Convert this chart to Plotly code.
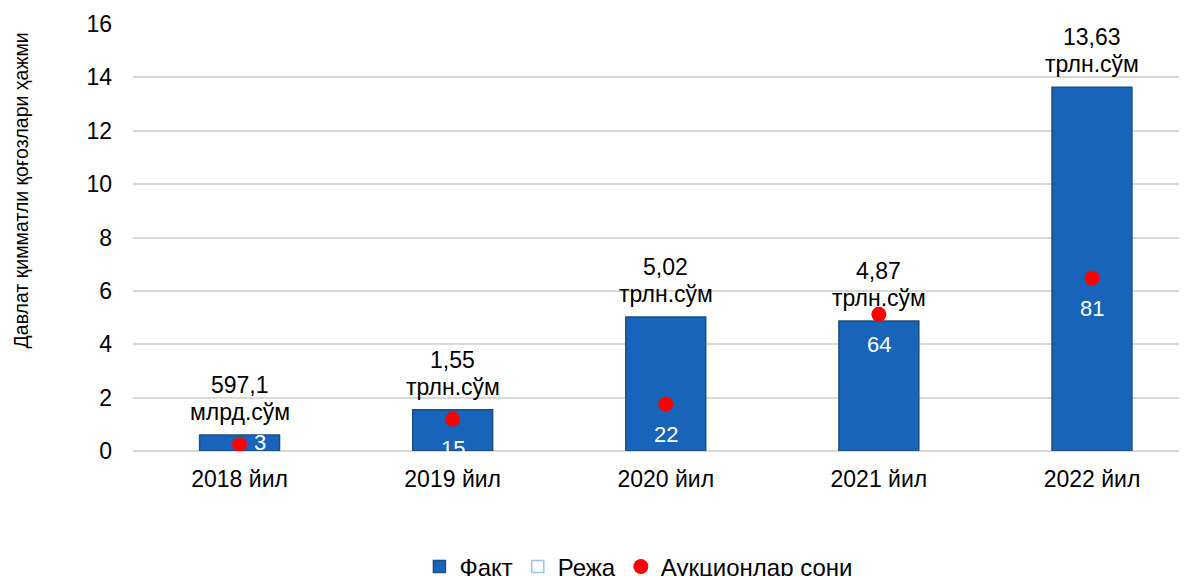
"""Давлат қимматли қоғозлари: факт ҳажми ва аукционлар сони (2018-2022)."""

import plotly.graph_objects as go

years = ["2018 йил", "2019 йил", "2020 йил", "2021 йил", "2022 йил"]
fact = [0.5971, 1.55, 5.02, 4.87, 13.63]
fact_values = ["597,1", "1,55", "5,02", "4,87", "13,63"]
fact_units = ["млрд.сўм", "трлн.сўм", "трлн.сўм", "трлн.сўм", "трлн.сўм"]
plan = [None, None, None, None, None]
auctions = [3, 15, 22, 64, 81]

FONT = "Liberation Sans, Arial, sans-serif"
BAR_FILL = "#1764BA"
BAR_LINE = "#1F4E79"

fig = go.Figure()

fig.add_trace(go.Bar(
    x=years, y=fact, name="Факт",
    marker=dict(color=BAR_FILL, line=dict(color=BAR_LINE, width=1.5)),
    width=0.375,
))
fig.add_trace(go.Bar(
    x=years, y=plan, name="Режа",
    marker=dict(color="white", line=dict(color="#9DC3E6", width=1.5)),
))
fig.add_trace(go.Scatter(
    x=years, y=auctions, name="Аукционлар сони", yaxis="y2",
    mode="markers", marker=dict(color="#FF0000", size=15),
))

# подписи над столбцами (две строки с плотным интервалом)
lbl_font = dict(size=23, color="#000000", family=FONT)
for x, v, val, unit in zip(years, fact, fact_values, fact_units):
    fig.add_annotation(x=x, y=v, text=unit, showarrow=False, yanchor="middle",
                       yshift=23, font=lbl_font)
    fig.add_annotation(x=x, y=v, text=val, showarrow=False, yanchor="middle",
                       yshift=50, font=lbl_font)

# белые числа аукционов у точек
for i, (x, n) in enumerate(zip(years, auctions)):
    if i == 0:
        fig.add_annotation(x=x, y=n, yref="y2", text=str(n), showarrow=False,
                           xanchor="left", xshift=12, yshift=2,
                           font=dict(size=22, color="white", family=FONT))
    else:
        fig.add_annotation(x=x, y=n, yref="y2", text=str(n), showarrow=False,
                           yshift=-30, font=dict(size=22, color="white", family=FONT))

fig.add_annotation(xref="paper", yref="paper", x=-0.106, y=0.611,
                   xanchor="center", yanchor="middle",
                   text="Давлат қимматли қоғозлари ҳажми", textangle=-90,
                   showarrow=False, font=dict(size=19.5, color="#000000", family=FONT))

fig.update_layout(
    width=1179, height=568,
    margin=dict(l=125, r=0, t=16, b=125),
    paper_bgcolor="white", plot_bgcolor="white",
    font=dict(family=FONT, color="#000000", size=23),
    barmode="overlay",
    showlegend=True,
    legend=dict(orientation="h", x=0.48, xanchor="center",
                yref="container", y=0.016, yanchor="middle",
                font=dict(size=24), itemwidth=30, traceorder="normal"),
    xaxis=dict(range=[-0.5, 4.446], showgrid=False, showline=False, ticks="",
               ticklabelstandoff=12, tickfont=dict(size=23)),
    yaxis=dict(range=[0, 16], dtick=2, gridcolor="#D9D9D9", gridwidth=1.5,
               zeroline=True, zerolinecolor="#D9D9D9", zerolinewidth=1.5,
               showline=False, ticks="", ticklabelstandoff=20, tickfont=dict(size=23)),
    yaxis2=dict(range=[0, 200], overlaying="y", side="right", visible=False),
)

fig.write_html("out.html")
